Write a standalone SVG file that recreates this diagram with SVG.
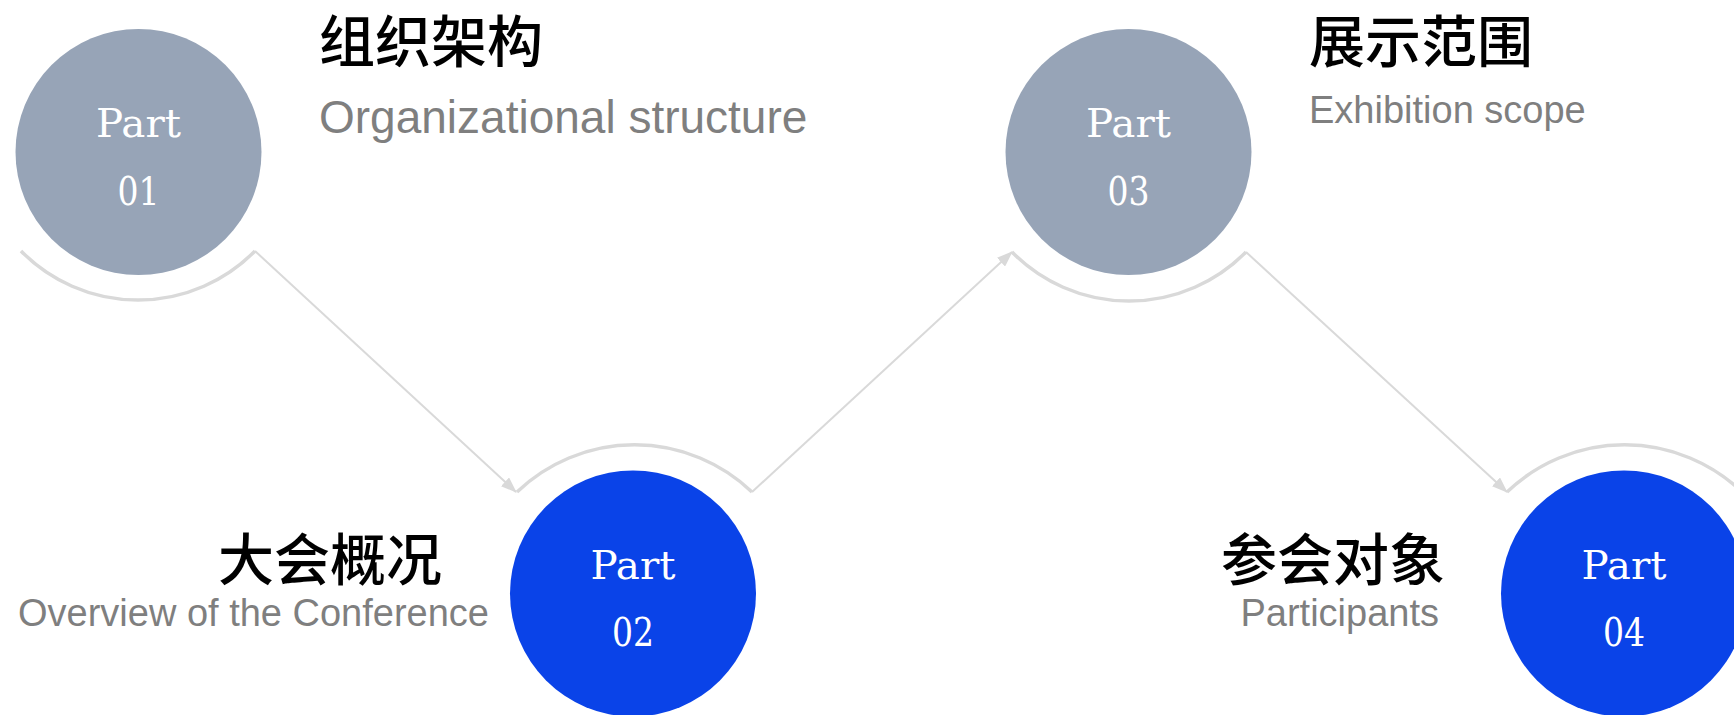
<svg xmlns="http://www.w3.org/2000/svg" width="1734" height="715" viewBox="0 0 1734 715">
<style>
.gray{fill:#97a4b7}
.blue{fill:#0a43e8}
.arc{fill:none;stroke:#d9d9d9;stroke-width:3.5}
.line{fill:none;stroke:#d9d9d9;stroke-width:2}
.part{font-family:"DejaVu Serif","Liberation Serif",serif;font-size:40px;fill:#ffffff;text-anchor:middle}
.title{font-family:"Noto Sans CJK SC",sans-serif;font-size:56px;font-weight:500;fill:#000000}
.sub{font-family:"Liberation Sans",Arial,sans-serif;fill:#7f7f7f}
</style>
<defs>
<marker id="arr" markerUnits="userSpaceOnUse" viewBox="0 0 16 12" refX="15" refY="6" markerWidth="16" markerHeight="12" orient="auto">
<path d="M0,0 L16,6 L0,12 z" fill="#d9d9d9"/>
</marker>
</defs>
<rect width="1734" height="715" fill="#ffffff"/>
<g id="connectors">
<path class="line" d="M255,251 L516,492" marker-end="url(#arr)"/>
<path class="line" d="M752,492 L1012,252" marker-end="url(#arr)"/>
<path class="line" d="M1246,252 L1507,492" marker-end="url(#arr)"/>
</g>
<g id="node-01">
<path class="arc" d="M21,251 A164,164 0 0 0 255,251"/>
<circle class="gray" cx="138.5" cy="152" r="123"/>
<text class="part" x="138.5" y="137" textLength="85" lengthAdjust="spacingAndGlyphs">Part</text>
<text class="part" x="138.5" y="205" textLength="42" lengthAdjust="spacingAndGlyphs">01</text>
<text class="title" x="319" y="62">组织架构</text>
<text class="sub" x="319" y="133" font-size="46">Organizational structure</text>
</g>
<g id="node-02">
<path class="arc" d="M517,492 A170,170 0 0 1 752,492"/>
<circle class="blue" cx="633" cy="593.5" r="123"/>
<text class="part" x="633" y="579" textLength="85" lengthAdjust="spacingAndGlyphs">Part</text>
<text class="part" x="633" y="646" textLength="42" lengthAdjust="spacingAndGlyphs">02</text>
<text class="title" x="442" y="580" text-anchor="end">大会概况</text>
<text class="sub" x="489" y="626" font-size="38" text-anchor="end">Overview of the Conference</text>
</g>
<g id="node-03">
<path class="arc" d="M1012,252 A164,164 0 0 0 1246,252"/>
<circle class="gray" cx="1128.5" cy="152" r="123"/>
<text class="part" x="1128.5" y="137" textLength="85" lengthAdjust="spacingAndGlyphs">Part</text>
<text class="part" x="1128.5" y="205" textLength="42" lengthAdjust="spacingAndGlyphs">03</text>
<text class="title" x="1309" y="62">展示范围</text>
<text class="sub" x="1309" y="123" font-size="38">Exhibition scope</text>
</g>
<g id="node-04">
<path class="arc" d="M1507,492 A170,170 0 0 1 1742,492"/>
<circle class="blue" cx="1624" cy="593.5" r="123"/>
<text class="part" x="1624" y="579" textLength="85" lengthAdjust="spacingAndGlyphs">Part</text>
<text class="part" x="1624" y="646" textLength="42" lengthAdjust="spacingAndGlyphs">04</text>
<text class="title" x="1445" y="580" text-anchor="end">参会对象</text>
<text class="sub" x="1439" y="626" font-size="38" text-anchor="end">Participants</text>
</g>
</svg>
